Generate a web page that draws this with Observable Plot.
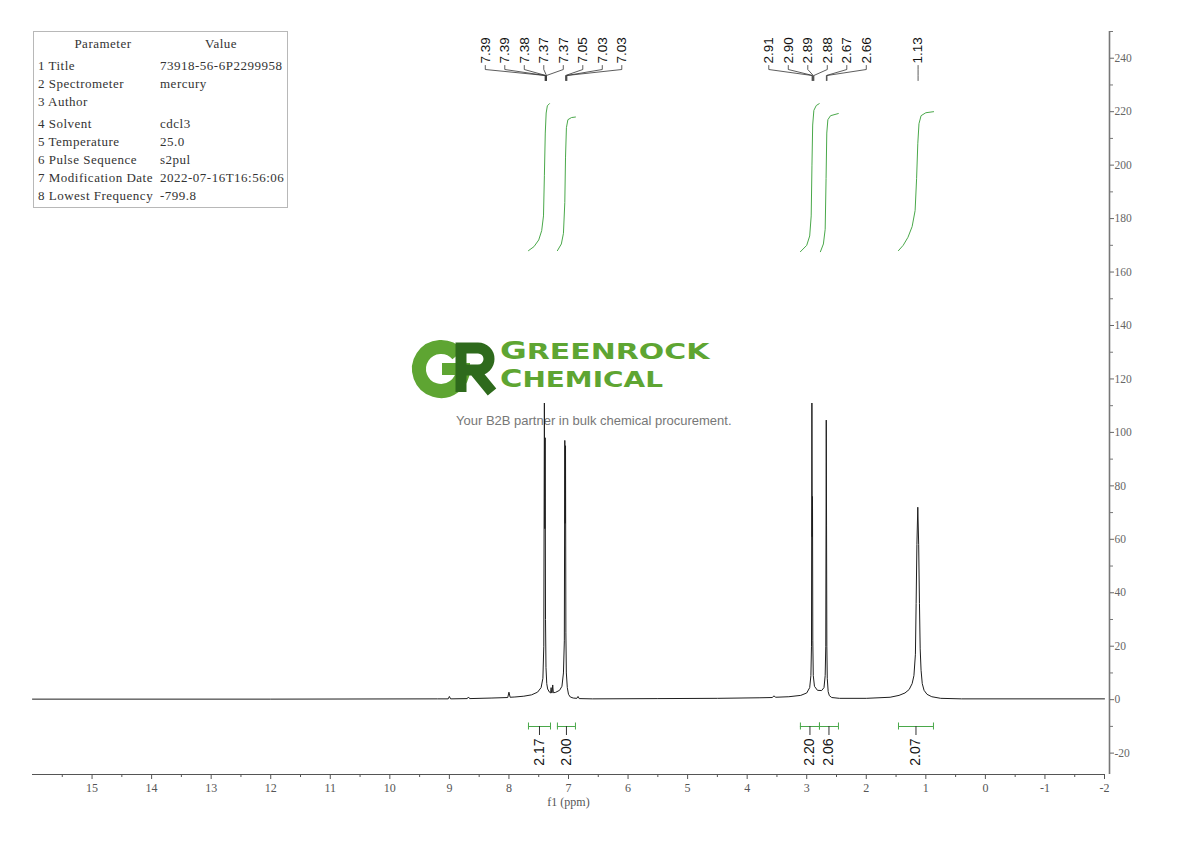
<!DOCTYPE html>
<html>
<head>
<meta charset="utf-8">
<script src="https://cdn.jsdelivr.net/npm/d3@7"></script>
<script src="https://cdn.jsdelivr.net/npm/@observablehq/plot@0.6"></script>
<style>
  body { margin: 0; background: #fff; }
  #wrap { position: relative; width: 1190px; height: 841px; overflow: hidden; background: #fff; }
  #chart { position: absolute; left: 0; top: 0; z-index: 2; }
  #wm { position: absolute; left: 0; top: 0; width: 1190px; height: 841px; z-index: 1; }
  #table { position: absolute; left: 33px; top: 31px; width: 253px; height: 175px; border: 1px solid #b8b8b8; z-index: 3;
           font-family: "Liberation Serif", serif; font-size: 13px; letter-spacing: 0.5px; color: #333; background: #fff; }
  #table div { position: absolute; white-space: nowrap; line-height: 14px; }
  .brand { position: absolute; left: 500px; height: 22px; font: bold 22px 'DejaVu Sans', sans-serif; color: #5ea532;
           white-space: nowrap; transform-origin: left top; line-height: 22px; }
  .brand span { font-size: 24px; line-height: 22px; }
</style>
</head>
<body>
<div id="wrap">
  <div id="wm"></div>
  <div id="chart"></div>
  <div id="table"></div>
</div>
<script>
// ---------------- data ----------------
const spectrumPoints = [
  [16.0,0.2],[12.0,0.2],[9.2,0.3],[9.02,0.3],[9.0,1.2],[8.98,0.3],[8.70,0.4],[8.68,1.0],[8.66,0.4],
  [8.3,0.6],[8.02,0.8],[8.0,2.8],[7.98,0.9],[7.9,1.0],[7.75,1.3],[7.62,1.8],[7.52,2.8],[7.46,4.5],
  [7.43,8],[7.415,20],[7.405,111],[7.398,64],[7.392,98],[7.386,30],[7.378,12],[7.365,6],[7.35,4],
  [7.32,2.8],[7.30,2.5],[7.292,4.5],[7.285,2.6],[7.275,2.5],[7.265,5.5],[7.255,2.6],[7.22,2.7],
  [7.15,3.5],[7.11,5],[7.085,10],[7.07,22],[7.062,97],[7.056,66],[7.05,95],[7.044,25],[7.036,10],
  [7.02,4.5],[7.0,2],[6.97,1.0],[6.92,0.6],[6.86,0.5],[6.84,1.2],[6.82,0.4],[6.6,0.3],[5.5,0.4],
  [4.5,0.5],[3.8,0.7],[3.58,0.8],[3.55,1.4],[3.52,0.9],[3.3,1.1],[3.1,1.6],[3.0,2.5],[2.95,4.5],
  [2.93,9],[2.92,20],[2.913,111],[2.908,61],[2.903,76],[2.898,22],[2.89,9],[2.87,5],[2.82,3.5],
  [2.75,3.4],[2.71,4.5],[2.69,9],[2.68,20],[2.672,104.6],[2.667,65],[2.662,20],[2.655,8],[2.64,3],
  [2.62,1.5],[2.58,0.8],[2.45,0.5],[2.0,0.5],[1.6,0.9],[1.45,1.6],[1.35,2.5],[1.28,3.8],[1.23,6],
  [1.2,9],[1.175,17],[1.163,36],[1.15,58],[1.135,72],[1.12,58],[1.107,36],[1.095,19],[1.08,11],
  [1.06,6],[1.03,3.5],[0.98,2],[0.9,1.1],[0.75,0.5],[0.4,0.3],[-2.0,0.3]
];

const peakLabels = ["7.39","7.39","7.38","7.37","7.37","7.05","7.03","7.03",
                    "2.91","2.90","2.89","2.88","2.67","2.66","1.13"];

const integralValues = ["2.17","2.00","2.20","2.06","2.07"];
const integralFrom   = [7.672, 7.186, 3.106, 2.786, 1.459];
const integralTo     = [7.302, 6.883, 2.786, 2.467, 0.872];

const integralCurves = [
  [[7.672,168],[7.58,169.5],[7.50,172],[7.45,175.5],[7.42,181],[7.405,196],[7.39,212],[7.375,219.5],[7.355,222.2],[7.32,223]],
  [[7.186,168],[7.12,170.5],[7.085,174.5],[7.062,186],[7.05,203],[7.035,214],[7.01,217],[6.95,217.8],[6.883,218]],
  [[3.106,167.6],[3.0,170],[2.95,173.5],[2.925,181],[2.912,200],[2.9,215],[2.88,220.5],[2.84,222.3],[2.79,223]],
  [[2.77,167.6],[2.72,170.5],[2.69,176],[2.675,195],[2.663,212],[2.645,217],[2.6,218.5],[2.47,219.3]],
  [[1.46,168],[1.38,170],[1.30,173],[1.23,177],[1.18,183],[1.155,195],[1.135,208],[1.115,215.5],[1.08,218.5],[1.0,219.6],[0.87,220]]
];

const xTickValues  = [15,14,13,12,11,10,9,8,7,6,5,4,3,2,1,0,-1,-2];
const xMinorValues = [15.5,14.5,13.5,12.5,11.5,10.5,9.5,8.5,7.5,6.5,5.5,4.5,3.5,2.5,1.5,0.5,-0.5,-1.5];
const yTickValues  = [-20,0,20,40,60,80,100,120,140,160,180,200,220,240];
const yMinorValues = [-10,10,30,50,70,90,110,130,150,170,190,210,230,250];
const xAxisLabel = "f1 (ppm)";

const paramNames  = ["1 Title","2 Spectrometer","3 Author","4 Solvent","5 Temperature","6 Pulse Sequence","7 Modification Date","8 Lowest Frequency"];
const paramValues = ["73918-56-6P2299958","mercury","","cdcl3","25.0","s2pul","2022-07-16T16:56:06","-799.8"];
const tableHeaders = ["Parameter","Value"];

const brandName = ["GREENROCK","CHEMICAL"];
const tagline = "Your B2B partner in bulk chemical procurement.";

// ---------------- layout ----------------
const W = 1190, H = 841;
const mL = 32, mR = 81, mT = 31, mB = 67;
const xDomain = [16, -2], xRange = [32, 1104];
const yDomain = [-28, 250];
const xs = d3.scaleLinear(xDomain, xRange);
const ys = d3.scaleLinear(yDomain, [H - mB, mT]);
const green = "#4aa84a";

// spread peak labels (pixel space), clusters centered on their targets
const S = 19.5;
let items = peakLabels.map((t, i) => ({i, text: t, target: xs(+t)})).sort((a, b) => a.target - b.target);
let clusters = items.map(d => ({members: [d], center: d.target}));
let merged = true;
while (merged) {
  merged = false;
  for (let k = 0; k < clusters.length - 1; k++) {
    const a = clusters[k], b = clusters[k + 1];
    const aEnd = a.center + (a.members.length - 1) * S / 2;
    const bStart = b.center - (b.members.length - 1) * S / 2;
    if (bStart - aEnd < S) {
      const m = a.members.concat(b.members);
      clusters.splice(k, 2, {members: m, center: d3.mean(m, d => d.target)});
      merged = true;
      break;
    }
  }
}
const labelData = [];
clusters.forEach(c => c.members.forEach((d, j) => {
  labelData.push({...d, lx: c.center + (j - (c.members.length - 1) / 2) * S});
}));
const connectors = [];
labelData.forEach(d => {
  [[d.lx, 65], [d.lx, 69], [d.target, 75], [d.target, 80]].forEach(([px, py]) =>
    connectors.push({id: d.i, x: xs.invert(px), y: ys.invert(py)}));
});

const spectrum = spectrumPoints.map(([p, v]) => ({ppm: p, v}));
const curves = integralCurves.flatMap((c, k) => c.map(([p, v]) => ({k, ppm: p, v})));
const integrals = integralValues.map((t, i) => ({t, from: integralFrom[i], to: integralTo[i], mid: (integralFrom[i] + integralTo[i]) / 2}));
const yBr = ys.invert(726), yBrTick = ys.invert(735), yBrUp = ys.invert(722.5), yBrDn = ys.invert(729.5), yBrLabel = ys.invert(738);

const chart = Plot.plot({
  width: W, height: H,
  marginLeft: mL, marginRight: mR, marginTop: mT, marginBottom: mB,
  x: {domain: xDomain, range: xRange, label: null},
  y: {domain: yDomain, label: null},
  style: {fontFamily: "'Liberation Serif', serif", background: "transparent", overflow: "visible"},
  marks: [
    // integral curves
    Plot.line(curves, {x: "ppm", y: "v", z: "k", stroke: green, strokeWidth: 1}),
    // spectrum
    Plot.line(spectrum, {x: "ppm", y: "v", stroke: "#1e1e1e", strokeWidth: 1}),
    // peak labels + connectors
    Plot.line(connectors, {x: "x", y: "y", z: "id", stroke: "#333", strokeWidth: 0.8}),
    Plot.text(labelData, {x: d => xs.invert(d.lx), y: () => ys.invert(63), text: "text", rotate: -90,
      textAnchor: "start", lineAnchor: "middle", fontSize: 13.5, fontFamily: "'Liberation Sans', Arial, sans-serif", fill: "#111"}),
    // integral brackets
    Plot.ruleY(integrals, {y: () => yBr, x1: "from", x2: "to", stroke: green, strokeWidth: 1}),
    Plot.ruleX(integrals, {x: "from", y1: () => yBrUp, y2: () => yBrDn, stroke: green, strokeWidth: 1}),
    Plot.ruleX(integrals, {x: "to", y1: () => yBrUp, y2: () => yBrDn, stroke: green, strokeWidth: 1}),
    Plot.ruleX(integrals, {x: "mid", y1: () => yBr, y2: () => yBrTick, stroke: "#333", strokeWidth: 1}),
    Plot.text(integrals, {x: "mid", y: () => yBrLabel, text: "t", rotate: -90, textAnchor: "end", lineAnchor: "middle",
      fontSize: 14, fontFamily: "'Liberation Sans', Arial, sans-serif", fill: "#111"}),
    // x axis
    Plot.ruleY([-28], {x1: 16, x2: -2, stroke: "#555", strokeWidth: 1.2}),
    Plot.axisX(xMinorValues, {anchor: "bottom", tickSize: 3, tickFormat: () => "", color: "#555"}),
    Plot.axisX(xTickValues, {anchor: "bottom", tickSize: 5, tickPadding: 4, fontSize: 12, color: "#555", tickFormat: d => String(d)}),
    Plot.text([xAxisLabel], {x: 7, y: -28, dy: 28, text: d => d, fontSize: 12, fill: "#555"}),
    // y axis
    Plot.ruleX([-2], {y1: 250, y2: -28, dx: 5, stroke: "#777", strokeWidth: 1.6}),
    Plot.axisY(yMinorValues.filter(v => v <= 250), {anchor: "right", tickSize: 3, tickFormat: () => "", color: "#777"}),
    Plot.axisY(yTickValues, {anchor: "right", tickSize: 4, tickPadding: 1, fontSize: 11.5, color: "#666", tickFormat: d => String(d)})
  ]
});
document.getElementById("chart").appendChild(chart);

// ---------------- parameter table ----------------
const tbl = document.getElementById("table");
function cell(txt, left, top, center) {
  const d = document.createElement("div");
  d.textContent = txt;
  d.style.top = top + "px";
  if (center) { d.style.left = (left - 60) + "px"; d.style.width = "120px"; d.style.textAlign = "center"; }
  else d.style.left = left + "px";
  tbl.appendChild(d);
}
cell(tableHeaders[0], 69, 5, true);
cell(tableHeaders[1], 187, 5, true);
const rowY = [27, 45, 63, 85, 103, 121, 139, 157];
paramNames.forEach((n, i) => { cell(n, 4, rowY[i]); cell(paramValues[i], 126, rowY[i]); });

// ---------------- watermark ----------------
const wm = document.getElementById("wm");
wm.innerHTML = `
  <svg width="1190" height="841" style="position:absolute;left:0;top:0">
    <path d="M ${441 + 22 * Math.cos(-0.7)} ${369 + 22 * Math.sin(-0.7)} A 22 22 0 1 0 463 369"
          fill="none" stroke="#5ea532" stroke-width="14"/>
    <path d="M 442 369 H 470" stroke="#5ea532" stroke-width="12"/>
    <path d="M 461 392 V 348 H 478 A 11 11 0 0 1 478 370 H 466 M 474 370 L 492 392"
          fill="none" stroke="#2e6a1c" stroke-width="11" stroke-linejoin="miter"/>
  </svg>
  <div class="brand" style="top:340px;transform:scaleX(1.36);"><span>${brandName[0][0]}</span>${brandName[0].slice(1)}</div>
  <div class="brand" style="top:368px;transform:scaleX(1.27);"><span>${brandName[1][0]}</span>${brandName[1].slice(1)}</div>
  <div style="position:absolute;left:456px;top:413px;font:13px 'Liberation Sans',Arial,sans-serif;color:#777;white-space:nowrap;">${tagline}</div>
`;
</script>
</body>
</html>
